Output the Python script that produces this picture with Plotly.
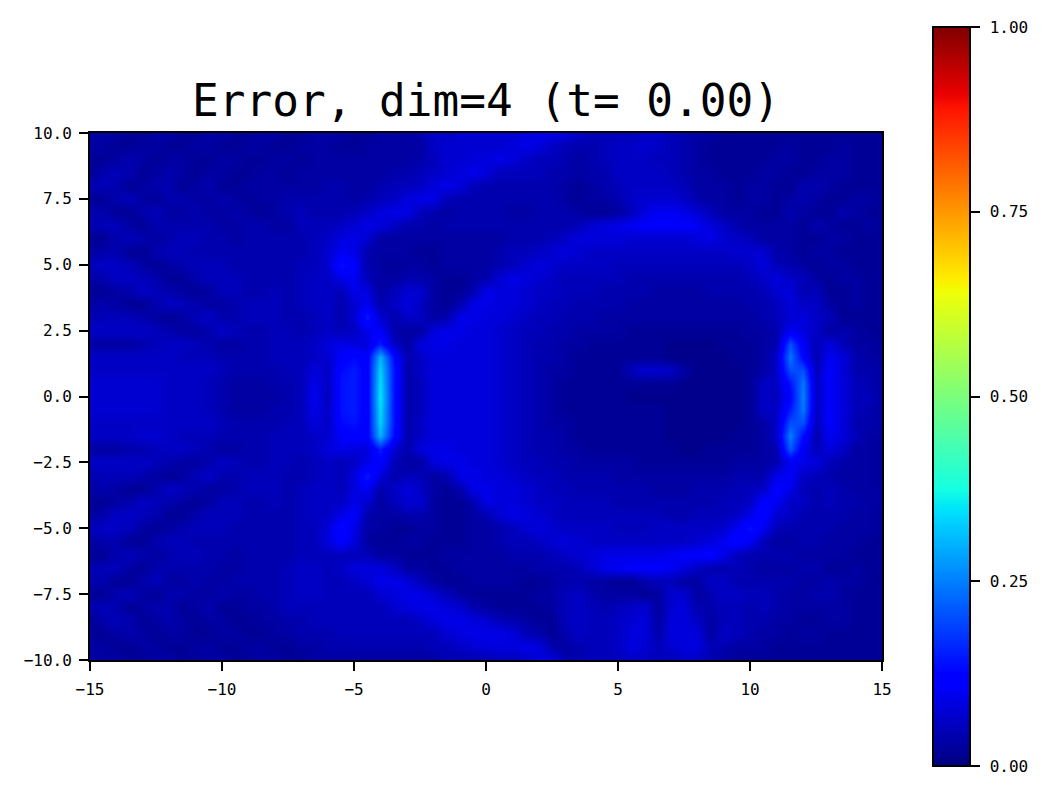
import numpy as np
import plotly.graph_objects as go

# Error, in hundredths. Rows run from y=10 down to y=-10,
# columns from x=-15 to x=15, both in steps of 0.5.
error_rows = [
    [3,3,3,2,2,3,3,2,2,3, 3,2,2,3,3,2,2,3,3,3, 2,2,3,3,3,4,6,6,7,7, 7,7,7,8,9,9,8,6,5,5, 5,5,6,6,5,4,3,3,2,2, 2,2,2,2,2,2,2,2,2,2,2],
    [3,3,2,2,3,3,2,2,3,3, 2,2,3,3,2,2,3,3,3,2, 2,3,3,3,3,3,6,7,7,7, 7,7,8,9,8,6,5,4,4,5, 6,6,7,6,5,4,3,2,2,2, 2,2,2,3,2,2,2,3,2,2,2],
    [2,2,3,4,3,2,3,3,2,2, 3,3,2,2,3,3,2,3,3,3, 3,3,3,3,3,4,5,7,7,8, 8,9,8,6,5,5,4,3,4,5, 6,6,6,5,5,4,3,2,2,2, 2,2,3,3,2,2,3,3,2,2,2],
    [2,4,5,4,2,3,4,3,2,3, 3,2,2,3,3,2,3,3,3,3, 3,3,3,4,4,5,6,7,8,9, 8,5,5,5,5,4,4,3,4,4, 6,6,6,6,5,4,3,3,2,2, 2,3,3,2,2,3,3,3,2,2,2],
    [4,5,4,2,3,4,4,2,3,4, 2,2,3,3,3,3,3,3,4,4, 3,3,4,5,5,6,8,9,8,5, 4,4,4,4,4,4,3,2,3,4, 5,6,6,6,6,5,3,3,3,2, 3,3,2,2,4,4,3,2,2,2,2],
    [2,2,4,5,3,2,4,4,3,3, 4,3,2,3,3,4,4,4,4,4, 3,4,5,6,8,9,9,5,4,4, 4,4,4,4,4,4,3,2,3,3, 4,6,7,7,7,6,4,3,3,2, 3,3,2,3,4,3,2,2,3,3,2],
    [4,4,2,2,4,5,3,3,4,3, 3,4,3,2,3,4,5,4,4,4, 5,6,8,9,9,5,4,3,4,4, 4,4,3,3,4,4,4,3,2,2, 3,5,8,10,10,9,7,5,3,3, 3,2,2,4,3,2,2,4,3,2,2],
    [4,5,5,3,2,4,4,4,4,4, 3,3,4,4,3,3,5,5,5,6, 7,9,8,6,4,4,3,4,4,4, 4,4,4,4,4,4,4,5,7,8, 9,10,11,11,11,11,10,8,6,4, 3,3,3,3,2,4,3,2,2,3,2],
    [2,2,4,5,4,3,4,5,5,4, 4,3,4,4,4,4,4,5,6,8, 9,7,3,3,3,3,3,3,3,3, 3,3,4,4,4,5,6,8,8,8, 8,7,7,7,7,7,8,9,7,6, 5,3,3,3,2,2,3,3,2,2,2],
    [3,4,4,2,2,4,5,5,4,4, 4,4,4,4,4,4,4,5,7,10, 9,4,3,3,3,2,2,3,3,3, 3,4,5,5,6,7,8,7,6,6, 6,6,6,6,6,6,6,6,6,7, 7,7,4,3,2,3,3,2,2,2,2],
    [5,6,6,5,3,2,3,4,5,5, 5,4,4,4,4,4,5,5,7,14, 11,4,3,2,3,3,2,3,3,3, 3,4,5,7,8,7,6,6,6,6, 5,5,5,5,5,5,5,5,5,5, 6,8,5,4,3,2,3,3,2,2,2],
    [3,4,6,6,5,4,2,2,4,5, 5,5,4,4,4,4,5,6,6,9, 10,5,3,3,4,4,3,2,2,3, 4,7,9,8,7,6,5,5,5,5, 5,4,4,4,4,4,4,4,4,4, 5,6,8,6,5,3,2,3,3,2,2],
    [2,2,3,4,6,5,4,3,2,3, 5,5,4,4,5,4,5,6,6,5, 9,8,3,5,7,7,3,2,2,4, 9,8,8,7,6,6,5,5,5,4, 4,4,4,3,3,3,3,4,4,4, 4,5,7,8,4,5,2,2,3,2,2],
    [3,4,3,2,2,4,6,5,4,3, 3,4,5,5,5,4,5,6,6,4, 7,10,4,6,8,6,3,2,4,9, 9,8,8,7,6,5,5,4,4,4, 4,3,3,3,3,3,3,3,3,3, 4,4,5,8,6,6,3,2,3,2,2],
    [4,5,5,5,4,3,2,3,5,6, 4,4,5,5,5,4,4,5,6,4, 7,15,7,4,6,6,3,4,9,9, 8,8,7,6,5,5,4,4,4,3, 3,3,3,3,3,3,3,3,3,3, 3,4,5,7,8,6,5,2,2,2,2],
    [6,6,6,6,6,5,4,3,3,4, 6,5,4,4,5,5,4,5,6,5, 6,9,11,4,3,3,8,9,9,8, 8,7,6,5,5,4,4,3,3,3, 3,2,2,2,2,2,2,2,2,2, 3,3,4,10,8,6,3,4,3,2,2],
    [3,3,3,3,4,5,6,6,5,4, 3,3,4,4,5,5,5,6,8,9, 8,8,15,6,3,8,9,9,8,8, 8,7,6,5,4,4,3,3,2,2, 2,2,2,2,1,1,1,1,2,2, 2,3,4,20,10,5,8,5,3,3,2],
    [6,6,6,6,6,6,6,5,5,5, 4,4,4,4,5,5,5,6,7,11, 13,11,30,13,4,6,8,8,8,8, 8,7,6,5,4,4,3,2,2,2, 2,2,2,2,1,1,1,1,1,2, 2,3,6,24,12,4,10,8,4,3,3],
    [6,6,6,6,6,6,6,6,6,6, 5,4,4,4,4,5,5,8,6,13, 15,11,33,14,4,6,8,8,8,8, 8,7,6,5,4,3,3,2,2,2, 2,5,7,7,6,3,1,1,1,1, 2,3,6,20,20,5,11,8,4,4,3],
    [7,7,7,7,7,7,6,6,6,5, 4,3,3,3,4,4,5,9,6,14, 15,11,34,14,4,5,8,8,8,8, 8,7,6,5,4,3,2,2,2,2, 2,2,2,2,2,1,1,1,1,1, 2,6,6,14,24,6,11,8,5,4,3],
    [7,7,7,7,7,7,6,6,6,5, 4,3,3,3,3,4,5,10,5,14, 15,11,35,14,4,5,8,8,8,8, 8,7,6,5,4,3,2,2,2,2, 2,1,1,1,1,1,1,1,1,1, 2,6,5,12,25,6,11,8,5,5,3],
    [7,7,7,7,7,7,6,6,6,5, 4,3,3,3,4,4,5,9,6,14, 15,11,34,14,4,5,8,8,8,8, 8,7,6,5,4,3,2,2,2,2, 2,2,2,2,1,1,1,1,1,1, 2,6,6,15,24,6,11,8,5,4,3],
    [6,6,6,6,6,6,6,6,6,6, 5,4,4,4,4,5,5,8,6,13, 14,11,33,14,4,6,8,8,8,8, 8,7,6,5,4,3,3,2,2,2, 2,2,2,2,1,1,1,1,1,1, 2,3,6,20,20,5,11,8,4,4,3],
    [6,6,6,6,7,7,6,5,5,5, 4,4,4,4,5,5,5,6,7,11, 12,11,30,13,4,6,8,8,8,8, 8,7,6,5,4,4,3,2,2,2, 2,2,2,2,1,1,1,1,1,2, 2,3,6,25,13,4,10,8,5,3,3],
    [3,3,3,4,4,5,6,6,5,4, 3,3,4,4,5,5,5,6,8,9, 8,8,15,7,4,8,9,9,8,8, 8,7,6,5,4,4,3,3,2,2, 2,2,2,2,2,1,1,2,2,2, 2,3,4,21,10,5,8,6,3,3,2],
    [6,6,6,6,6,5,4,3,3,4, 6,5,4,4,5,5,4,5,6,5, 6,9,12,5,3,3,8,9,9,8, 8,7,6,5,5,4,4,3,3,3, 3,3,2,2,2,2,2,2,2,3, 3,3,4,10,9,8,5,4,3,3,2],
    [4,5,5,5,4,3,2,3,5,6, 4,4,5,5,5,4,4,5,6,5, 8,15,8,4,5,5,3,4,9,9, 8,8,7,6,5,5,4,4,4,4, 3,3,3,3,3,3,3,3,3,4, 4,4,9,11,6,5,4,3,3,3,2],
    [3,4,3,2,2,4,6,5,4,3, 3,4,5,5,5,4,5,6,6,5, 8,10,4,6,8,6,3,2,4,9, 9,8,8,7,6,5,5,4,4,4, 4,4,4,3,3,3,4,4,4,5, 5,6,12,9,5,4,5,4,3,3,3],
    [2,2,3,4,6,5,4,3,2,3, 5,5,4,4,5,4,5,6,6,6, 9,7,3,5,7,7,3,2,2,4, 9,8,8,7,6,6,5,5,5,5, 4,4,4,4,4,4,4,4,5,5, 6,12,10,6,6,4,5,4,4,3,3],
    [3,4,6,6,5,4,2,2,4,5, 5,5,4,4,4,4,5,6,6,9, 11,4,3,3,4,4,3,2,2,3, 4,7,9,8,7,6,5,5,5,5, 5,5,5,5,4,4,5,5,5,6, 9,13,7,6,4,4,4,4,3,3,2],
    [5,6,6,5,3,2,3,4,5,5, 5,4,4,4,4,4,5,5,8,13, 9,3,3,2,2,3,3,2,2,3, 3,4,5,7,8,7,6,6,6,6, 5,5,5,6,6,6,6,6,7,10, 14,10,5,4,4,4,4,3,3,3,2],
    [3,4,4,2,2,4,5,5,4,4, 4,4,4,4,4,4,5,5,8,12, 8,3,2,2,3,3,2,2,2,3, 3,4,5,5,6,7,8,7,6,6, 6,6,6,6,6,6,7,8,10,13, 10,5,3,3,4,4,3,3,3,2,2],
    [2,2,4,5,4,3,4,5,5,4, 4,3,4,4,4,4,5,5,5,5, 5,5,3,3,2,2,2,3,3,3, 3,3,4,4,4,5,6,7,8,9, 9,9,9,9,10,11,11,12,9,5, 4,4,4,4,3,3,3,3,2,2,2],
    [4,5,5,3,2,4,4,4,4,4, 3,3,4,4,4,5,6,6,5,6, 8,8,8,6,3,3,2,2,3,3, 3,3,3,3,4,4,4,5,7,9, 10,11,11,11,10,8,6,4,4,5, 4,3,3,3,4,4,2,2,3,2,2],
    [4,4,2,2,4,5,3,3,4,3, 3,4,4,4,4,5,6,6,5,5, 6,7,9,9,8,5,3,2,2,3, 3,3,3,2,2,3,4,4,3,3, 2,2,4,5,5,3,3,6,6,4, 4,4,4,4,3,3,4,3,3,2,2],
    [2,2,4,5,3,2,4,4,3,3, 4,3,3,4,4,5,6,6,5,5, 5,5,7,8,9,9,7,5,3,2, 2,2,2,2,3,3,5,6,4,3, 3,3,2,3,7,7,3,4,6,6, 5,5,4,3,3,4,4,3,2,2,2],
    [4,5,4,2,3,4,4,2,3,4, 2,2,3,3,4,5,5,5,5,5, 5,5,5,7,8,9,9,8,7,4, 3,2,2,2,2,3,5,6,5,4, 5,6,7,3,7,8,4,4,5,5, 4,5,4,3,3,3,3,3,2,2,2],
    [2,4,5,4,2,3,4,3,2,3, 3,2,2,3,3,4,4,5,5,5, 5,5,5,5,5,6,8,9,9,8, 7,5,4,3,2,2,5,6,5,5, 6,7,8,3,8,8,6,3,5,5, 4,4,3,3,2,2,3,3,2,2,2],
    [2,2,3,4,3,2,3,3,2,2, 3,3,2,2,3,3,4,4,4,5, 5,5,5,5,5,5,5,7,8,9, 9,9,8,5,4,2,4,6,5,5, 6,8,8,4,8,8,8,3,6,5, 4,3,3,2,3,3,2,2,2,2,2],
    [3,3,2,2,3,3,2,2,3,3, 2,2,3,3,2,2,3,3,4,4, 4,4,4,4,4,4,5,5,6,7, 8,8,8,9,8,4,3,4,5,5, 6,8,7,5,7,8,8,5,4,3, 3,3,2,2,2,2,2,2,2,2,2],
    [3,3,3,2,2,3,3,2,2,3, 3,2,2,3,3,2,2,3,3,3, 3,3,3,3,3,3,3,4,4,4, 4,5,5,6,8,8,4,4,5,5, 5,6,6,5,5,6,6,4,3,2, 2,2,2,2,2,2,2,2,2,2,2],
]

x_values = np.arange(-15, 15.5, 0.5)
y_values = np.arange(10, -10.5, -0.5)
x_ticks = [-15, -10, -5, 0, 5, 10, 15]
y_ticks = [-10, -7.5, -5, -2.5, 0, 2.5, 5, 7.5, 10]
colorbar_ticks = [0, 0.25, 0.5, 0.75, 1]
colorbar_labels = ["0.00", "0.25", "0.50", "0.75", "1.00"]

jet = [
    [0, "rgb(0,0,128)"], [0.11, "rgb(0,0,255)"], [0.125, "rgb(0,0,255)"],
    [0.34, "rgb(0,219,255)"], [0.35, "rgb(0,230,247)"], [0.375, "rgb(21,255,226)"],
    [0.64, "rgb(238,255,8)"], [0.65, "rgb(247,246,0)"], [0.66, "rgb(255,236,0)"],
    [0.89, "rgb(255,19,0)"], [0.91, "rgb(232,0,0)"], [1, "rgb(128,0,0)"],
]

W, H = 1049, 797
font_name = "DejaVu Sans Mono"
# plain leading spaces get trimmed, a small spaced span pushes the labels off the ticks
label_gap = '<span style="font-size:11.6px">\u00a0</span>'

fig = go.Figure(go.Heatmap(
    x=x_values,
    y=y_values,
    z=np.array(error_rows) / 100,
    zmin=0,
    zmax=1,
    zsmooth="best",
    colorscale=jet,
    colorbar=dict(
        x=933 / W, xanchor="left", xpad=0,
        y=1 - 766 / H, yanchor="bottom", ypad=0,
        thickness=37,
        lenmode="pixels", len=739,
        outlinewidth=2, outlinecolor="black",
        ticks="outside", ticklen=9, tickwidth=2, tickcolor="black",
        tickvals=colorbar_ticks,
        ticktext=[label_gap + label for label in colorbar_labels],
        tickfont=dict(family=font_name, size=16, color="black"),
    ),
))

fig.update_layout(
    width=W,
    height=H,
    margin=dict(l=0, r=0, t=0, b=0, autoexpand=False),
    plot_bgcolor="white",
    paper_bgcolor="white",
    title=dict(
        text="Error, dim=4 (t= 0.00)",
        x=486 / W, xanchor="center",
        y=1 - 100 / H, yanchor="middle",
        font=dict(family=font_name, size=44.4, color="black"),
    ),
)

fig.update_xaxes(
    domain=[90 / W, 882 / W], range=[-15, 15],
    tickvals=x_ticks, ticks="outside", ticklen=9, tickwidth=2, tickcolor="black",
    ticklabelstandoff=5,
    showline=True, linewidth=2, linecolor="black", mirror=True,
    showgrid=False, zeroline=False,
    tickfont=dict(family=font_name, size=16, color="black"),
)
fig.update_yaxes(
    domain=[1 - 660 / H, 1 - 133 / H], range=[-10, 10],
    tickvals=y_ticks, tickformat=".1f", ticks="outside", ticklen=9, tickwidth=2, tickcolor="black",
    ticklabelstandoff=4,
    showline=True, linewidth=2, linecolor="black", mirror=True,
    showgrid=False, zeroline=False,
    tickfont=dict(family=font_name, size=16, color="black"),
)

fig.write_html("out.html", config=dict(displayModeBar=False),
               post_script="document.body.style.margin='0';")
